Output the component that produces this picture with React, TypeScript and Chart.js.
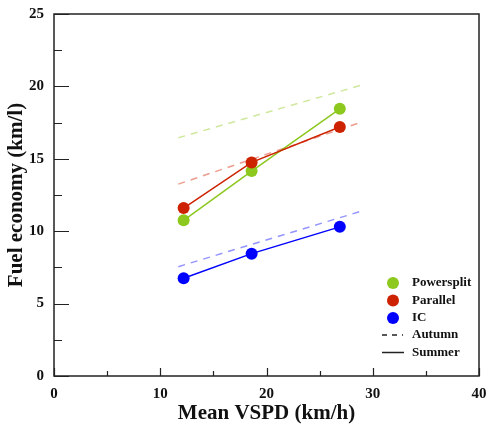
import React, { useEffect, useRef } from "react";
import { Chart, registerables } from "chart.js";

Chart.register(...registerables);

const speeds = [12.2, 18.6, 26.9];
const powersplitSummer = [10.75, 14.15, 18.45];
const parallelSummer = [11.6, 14.75, 17.2];
const icSummer = [6.75, 8.45, 10.3];

const autumnSpeeds = [11.7, 29.0];
const powersplitAutumn = [16.45, 20.1];
const parallelAutumn = [13.25, 17.55];
const icAutumn = [7.55, 11.4];

const xTicks = [0, 10, 20, 30, 40];
const yTicks = [0, 5, 10, 15, 20, 25];

const legendSeries = ["Powersplit", "Parallel", "IC"];
const legendStyles = ["Autumn", "Summer"];

const GREEN = "#8cc81e";
const RED = "#cc2200";
const BLUE = "#0000ff";
const GREEN_L = "rgba(150,205,40,0.45)";
const RED_L = "rgba(220,60,30,0.5)";
const BLUE_L = "rgba(60,60,255,0.55)";
const FONT = "'Liberation Serif', 'Times New Roman', serif";

const pts = (xs: number[], ys: number[]) => xs.map((x, i) => ({ x, y: ys[i] }));

const zeroPad = (s: any) => {
  s.paddingLeft = 0;
  s.paddingRight = 0;
  s.paddingTop = 0;
  s.paddingBottom = 0;
};

const framePlugin = {
  id: "frame",
  afterDraw(chart: any) {
    const { ctx, chartArea: a, scales } = chart;
    const xs = scales.x;
    const ys = scales.y;
    ctx.save();
    ctx.strokeStyle = "#222";
    ctx.lineWidth = 1.5;
    ctx.strokeRect(a.left, a.top, a.right - a.left, a.bottom - a.top);
    ctx.lineWidth = 1.2;
    ctx.beginPath();
    for (let v = 0; v <= 40; v += 5) {
      const px = Math.round(xs.getPixelForValue(v)) + 0.5;
      const len = v % 10 === 0 ? 8 : 5;
      ctx.moveTo(px, a.bottom);
      ctx.lineTo(px, a.bottom - len);
    }
    for (let v = 0; v <= 25; v += 2.5) {
      const py = Math.round(ys.getPixelForValue(v)) + 0.5;
      const len = v % 5 === 0 ? 15 : 8;
      ctx.moveTo(a.left, py);
      ctx.lineTo(a.left + len, py);
    }
    ctx.stroke();

    // legend
    const lx = 393;
    const tx = 412;
    const rows = [283, 300.5, 318, 335, 352.5];
    const cols = [GREEN, RED, BLUE];
    ctx.font = `bold 13px ${FONT}`;
    ctx.textBaseline = "middle";
    ctx.textAlign = "left";
    ctx.fillStyle = "#111";
    legendSeries.forEach((name, i) => {
      ctx.beginPath();
      ctx.fillStyle = cols[i];
      ctx.arc(lx, rows[i], 6, 0, Math.PI * 2);
      ctx.fill();
      ctx.fillStyle = "#111";
      ctx.fillText(name, tx, rows[i]);
    });
    ctx.strokeStyle = "#222";
    ctx.lineWidth = 1.5;
    ctx.setLineDash([5, 5]);
    ctx.beginPath();
    ctx.moveTo(382, rows[3]);
    ctx.lineTo(403, rows[3]);
    ctx.stroke();
    ctx.setLineDash([]);
    ctx.beginPath();
    ctx.moveTo(382, rows[4]);
    ctx.lineTo(404, rows[4]);
    ctx.stroke();
    ctx.fillText(legendStyles[0], tx, rows[3]);
    ctx.fillText(legendStyles[1], tx, rows[4]);
    ctx.restore();
  },
};

export default function App() {
  const ref = useRef<HTMLCanvasElement>(null);
  useEffect(() => {
    document.body.style.margin = "0";
    const dashed = (data: any, color: string) => ({
      data,
      showLine: true,
      borderColor: color,
      borderWidth: 1.5,
      borderDash: [7, 6],
      pointRadius: 0,
      order: 2,
    });
    const solid = (data: any, color: string) => ({
      data,
      showLine: true,
      borderColor: color,
      backgroundColor: color,
      borderWidth: 1.5,
      pointRadius: 6,
      pointBorderWidth: 0,
      order: 1,
    });
    const chart = new Chart(ref.current!, {
      type: "scatter",
      data: {
        datasets: [
          dashed(pts(autumnSpeeds, powersplitAutumn), GREEN_L),
          dashed(pts(autumnSpeeds, parallelAutumn), RED_L),
          dashed(pts(autumnSpeeds, icAutumn), BLUE_L),
          solid(pts(speeds, icSummer), BLUE),
          solid(pts(speeds, parallelSummer), RED),
          solid(pts(speeds, powersplitSummer), GREEN),
        ] as any,
      },
      options: {
        animation: false,
        responsive: false,
        layout: { padding: { top: 14, right: 10, left: 0, bottom: 0 } },
        plugins: { legend: { display: false }, tooltip: { enabled: false } },
        scales: {
          x: {
            type: "linear",
            min: 0,
            max: 40,
            afterFit: (s: any) => {
              s.height = 50;
              zeroPad(s);
            },
            afterBuildTicks: (s: any) => {
              s.ticks = xTicks.map((v) => ({ value: v }));
            },
            grid: { display: false, drawTicks: false },
            border: { display: false },
            ticks: {
              padding: 9,
              color: "#111",
              font: { family: FONT, size: 15, weight: "bold" },
            },
            title: {
              display: true,
              text: "Mean VSPD (km/h)",
              color: "#111",
              padding: { top: 0, bottom: 0 },
              font: { family: FONT, size: 21, weight: "bold" },
            },
          },
          y: {
            type: "linear",
            min: 0,
            max: 25,
            afterFit: (s: any) => {
              s.width = 54;
              zeroPad(s);
            },
            afterBuildTicks: (s: any) => {
              s.ticks = yTicks.map((v) => ({ value: v }));
            },
            grid: { display: false, drawTicks: false },
            border: { display: false },
            ticks: {
              padding: 10,
              color: "#111",
              font: { family: FONT, size: 15, weight: "bold" },
            },
            title: {
              display: true,
              text: "Fuel economy (km/l)",
              color: "#111",
              padding: { top: 4, bottom: 0 },
              font: { family: FONT, size: 21, weight: "bold" },
            },
          },
        },
      } as any,
      plugins: [framePlugin],
    });
    return () => chart.destroy();
  }, []);
  return (
    <div style={{ position: "fixed", left: 0, top: 0, width: 489, height: 426, background: "#fff" }}>
      <canvas ref={ref} width={489} height={426} />
    </div>
  );
}
